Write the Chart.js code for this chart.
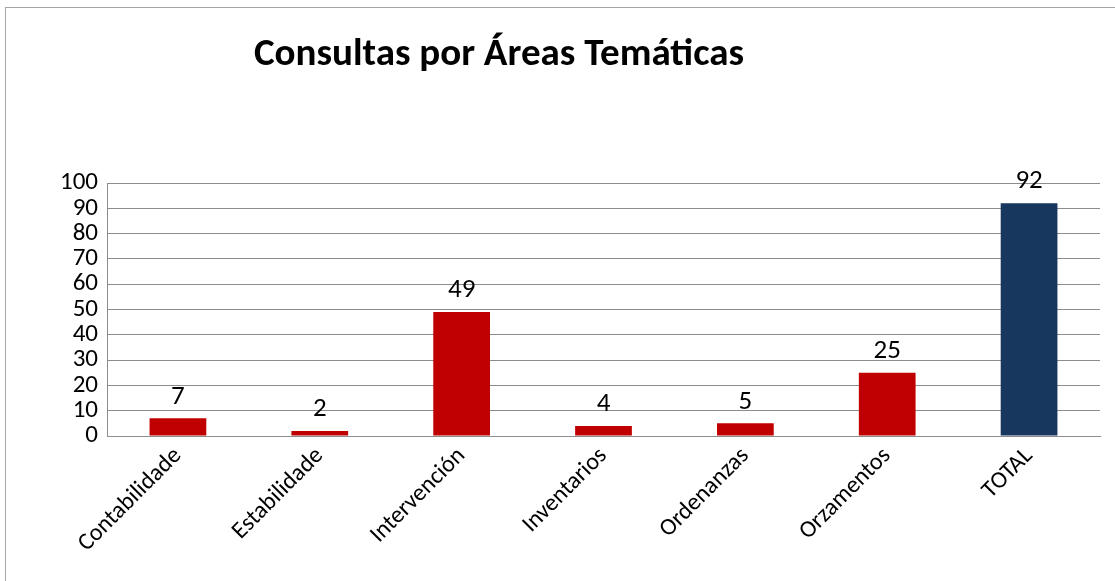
<!DOCTYPE html>
<html>
<head>
<meta charset="utf-8">
<script src="https://cdn.jsdelivr.net/npm/chart.js@4/dist/chart.umd.min.js"></script>
<style>
  html, body { margin: 0; padding: 0; background: #fff; }
  #wrap { position: relative; width: 1115px; height: 581px; }
  #frame { position: absolute; left: 5px; top: 7px; width: 1120px; height: 580px; border: 1px solid #a6a6a6; box-sizing: border-box; }
  canvas { position: absolute; left: 0; top: 0; }
</style>
</head>
<body>
<div id="wrap">
  <div id="frame"></div>
  <canvas id="chart" width="1115" height="581"></canvas>
</div>
<script>
// chart data
const categories = ["Contabilidade", "Estabilidade", "Intervención", "Inventarios", "Ordenanzas", "Orzamentos", "TOTAL"];
const consultas = [7, 2, 49, 4, 5, 25, 92];
const barColors = ["#c00000", "#c00000", "#c00000", "#c00000", "#c00000", "#c00000", "#17375e"];
const yTicks = [0, 10, 20, 30, 40, 50, 60, 70, 80, 90, 100];
const chartTitle = "Consultas por Áreas Temáticas";

const FONT = "Carlito, 'Open Sans', 'Liberation Sans', sans-serif";

// draws the value above each bar
const valueLabels = {
  id: "valueLabels",
  afterDatasetsDraw(chart) {
    const ctx = chart.ctx;
    const meta = chart.getDatasetMeta(0);
    ctx.save();
    ctx.font = "27px " + FONT;
    ctx.fillStyle = "#000";
    ctx.textAlign = "center";
    ctx.textBaseline = "bottom";
    meta.data.forEach((bar, i) => {
      ctx.fillText(String(consultas[i]), bar.x, bar.y - 8);
    });
    ctx.restore();
  }
};

// title sits left of centre like the original
const titleText = {
  id: "titleText",
  afterDraw(chart) {
    const ctx = chart.ctx;
    ctx.save();
    ctx.font = "bold 39px " + FONT;
    ctx.fillStyle = "#000";
    ctx.textAlign = "center";
    ctx.textBaseline = "middle";
    ctx.fillText(chartTitle, 499, 55);
    ctx.restore();
  }
};

new Chart(document.getElementById("chart").getContext("2d"), {
  type: "bar",
  data: {
    labels: categories,
    datasets: [{
      data: consultas,
      backgroundColor: barColors,
      barPercentage: 0.4,
      categoryPercentage: 1
    }]
  },
  options: {
    responsive: false,
    animation: false,
    layout: { padding: { top: 183, right: 15, left: 0, bottom: 0 } },
    plugins: {
      legend: { display: false },
      tooltip: { enabled: false },
      title: { display: false }
    },
    scales: {
      y: {
        min: 0,
        max: 100,
        afterBuildTicks: s => { s.ticks = yTicks.map(v => ({ value: v })); },
        afterFit: s => { s.width = 107; },
        grid: { color: "#8c8c8c", drawTicks: false, lineWidth: 1 },
        border: { color: "#8c8c8c" },
        ticks: { color: "#000", autoSkip: false, padding: 9, font: { family: FONT, size: 25 } }
      },
      x: {
        afterFit: s => { s.height = 581 - 436; },
        grid: { display: false, drawTicks: false },
        border: { color: "#8c8c8c" },
        ticks: { color: "#000", minRotation: 45, maxRotation: 45, padding: 6, font: { family: FONT, size: 24 } }
      }
    }
  },
  plugins: [valueLabels, titleText]
});
</script>
</body>
</html>
